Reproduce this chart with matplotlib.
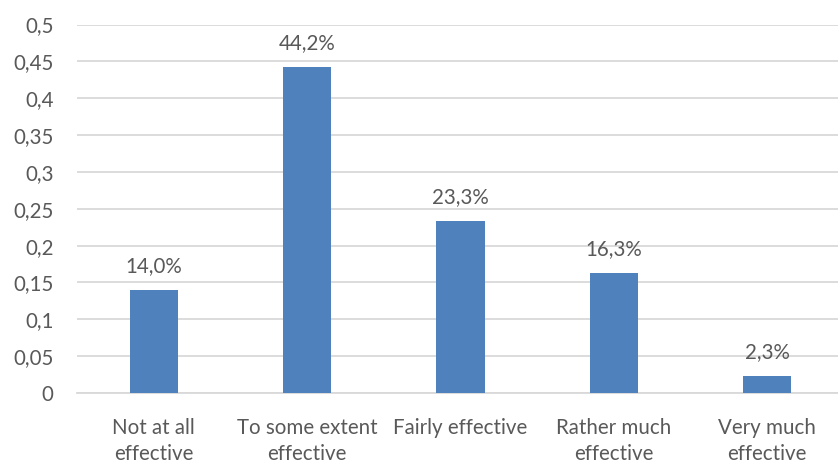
import matplotlib
matplotlib.use("Agg")
import matplotlib.pyplot as plt
from matplotlib.ticker import FixedLocator

plt.rcParams['font.family'] = ['Lato', 'DejaVu Sans']

categories = ["Not at all\neffective", "To some extent\neffective", "Fairly effective",
              "Rather much\neffective", "Very much\neffective"]
values = [0.140, 0.442, 0.233, 0.163, 0.023]
y_ticks = [0, 0.05, 0.1, 0.15, 0.2, 0.25, 0.3, 0.35, 0.4, 0.45, 0.5]
y_tick_labels = ["0", "0,05", "0,1", "0,15", "0,2", "0,25", "0,3", "0,35", "0,4", "0,45", "0,5"]

text_color = "#595959"
grid_color = "#d9d9d9"
bar_color = "#4f81bd"
fs = 14.8

fig = plt.figure(figsize=(8.38, 4.63), dpi=100)
ax = fig.add_axes([77 / 838, 1 - 393 / 463, 767 / 838, 368.5 / 463])

x = list(range(len(categories)))
bars = ax.bar(x, values, width=0.313, color=bar_color, zorder=3)

for xi, v in zip(x, values):
    label = f"{v * 100:.1f}%".replace(".", ",")
    ax.annotate(label, (xi, v), xytext=(0, 10), textcoords="offset points",
                ha="center", va="bottom", fontsize=fs, color=text_color)

ax.set_xlim(-0.5, len(categories) - 0.5)
ax.set_ylim(0, 0.5)
ax.yaxis.set_major_locator(FixedLocator(y_ticks))
ax.set_yticklabels(y_tick_labels)
ax.set_xticks(x)
ax.set_xticklabels(categories, linespacing=1.4)

ax.tick_params(axis="y", length=0, pad=17, labelsize=fs, labelcolor=text_color)
ax.tick_params(axis="x", length=0, pad=18, labelsize=fs, labelcolor=text_color)

ax.grid(axis="y", color=grid_color, linewidth=1.3, zorder=0)
for side in ["left", "right", "top"]:
    ax.spines[side].set_visible(False)
ax.spines["bottom"].set_color(grid_color)
ax.spines["bottom"].set_linewidth(1.3)

fig.savefig("out.png", dpi=100)
